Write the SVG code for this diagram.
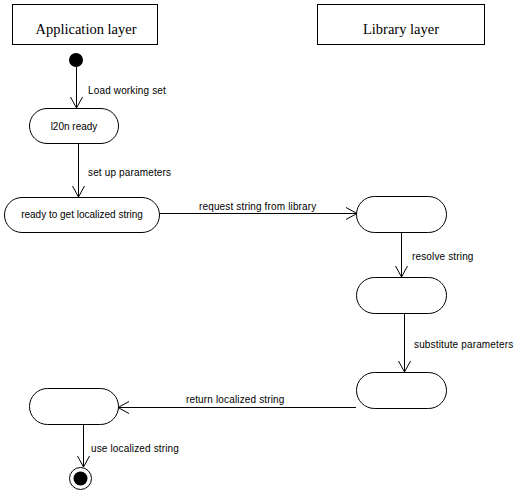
<svg xmlns="http://www.w3.org/2000/svg" width="517" height="496" viewBox="0 0 517 496">
<defs>
<style>
.lane{fill:#fff;stroke:#000;stroke-width:1}
.ttl{font-family:"Liberation Serif",serif;font-size:14.5px;text-anchor:middle;fill:#000}
.st{fill:#fff;stroke:#000;stroke-width:1}
.lbl{font-family:"Liberation Sans",Arial,sans-serif;font-size:10px;letter-spacing:0.15px;fill:#000}
.nt{font-family:"Liberation Sans",Arial,sans-serif;font-size:10px;fill:#000;text-anchor:middle}
.edge{fill:none;stroke:#000;stroke-width:1}
</style>
<marker id="arr" viewBox="0 0 14 14" refX="12" refY="7" markerWidth="14" markerHeight="14" markerUnits="userSpaceOnUse" orient="auto">
<path d="M1,1 L12,7 L1,13" fill="none" stroke="#000" stroke-width="1"/>
</marker>
</defs>
<rect width="517" height="496" fill="#fff"/>
<g id="lane-app">
<rect class="lane" x="12.5" y="4.5" width="145" height="40"/>
<text class="ttl" x="86" y="34">Application layer</text>
</g>
<g id="lane-lib">
<rect class="lane" x="317.5" y="4.5" width="167" height="40"/>
<text class="ttl" x="401" y="34">Library layer</text>
</g>
<g id="start">
<circle cx="76" cy="60" r="7" fill="#000"/>
</g>
<g id="l20n-ready">
<rect class="st" x="29.5" y="108.5" width="89" height="35" rx="17.5"/>
<text class="nt" x="74" y="130">l20n ready</text>
</g>
<g id="ready-get">
<rect class="st" x="4.5" y="197.5" width="155" height="35" rx="17.5"/>
<text class="nt" x="82" y="218">ready to get localized string</text>
</g>
<g id="lib1">
<rect class="st" x="356.5" y="196.5" width="90" height="36" rx="18"/>
</g>
<g id="lib2">
<rect class="st" x="356.5" y="277.5" width="90" height="36" rx="18"/>
</g>
<g id="lib3">
<rect class="st" x="356.5" y="372.5" width="90" height="36" rx="18"/>
</g>
<g id="app-result">
<rect class="st" x="29.5" y="388.5" width="89" height="36" rx="18"/>
</g>
<g id="end">
<circle cx="80.5" cy="478.5" r="11" fill="#fff" stroke="#000" stroke-width="1"/>
<circle cx="80.5" cy="478.5" r="7" fill="#000"/>
</g>
<g id="connectors">
<path class="edge" d="M76.5,67 V108" marker-end="url(#arr)"/>
<text class="lbl" x="88" y="94">Load working set</text>
<path class="edge" d="M78.5,144 V197" marker-end="url(#arr)"/>
<text class="lbl" x="88" y="176">set up parameters</text>
<path class="edge" d="M160,213.5 H357" marker-end="url(#arr)"/>
<text class="lbl" x="199" y="210">request string from library</text>
<path class="edge" d="M401.5,233 V277" marker-end="url(#arr)"/>
<text class="lbl" x="412" y="260">resolve string</text>
<path class="edge" d="M404.5,314 V372" marker-end="url(#arr)"/>
<text class="lbl" x="414" y="348">substitute parameters</text>
<path class="edge" d="M356,407.5 H118" marker-end="url(#arr)"/>
<text class="lbl" x="186" y="403">return localized string</text>
<path class="edge" d="M83.5,425 V467" marker-end="url(#arr)"/>
<text class="lbl" x="91" y="452">use localized string</text>
</g>
</svg>
